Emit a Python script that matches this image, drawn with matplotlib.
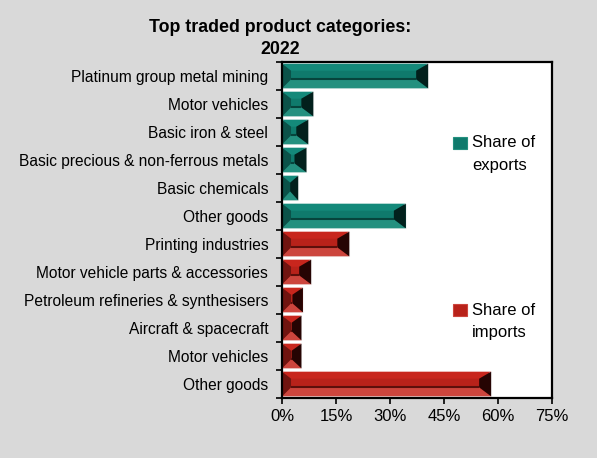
import matplotlib.pyplot as plt
from matplotlib.patches import Polygon, Rectangle
from matplotlib.ticker import FuncFormatter

plt.rcParams['font.family'] = ['Liberation Sans', 'DejaVu Sans']

categories = ["Platinum group metal mining", "Motor vehicles", "Basic iron & steel",
              "Basic precious & non-ferrous metals", "Basic chemicals", "Other goods",
              "Printing industries", "Motor vehicle parts & accessories",
              "Petroleum refineries & synthesisers", "Aircraft & spacecraft",
              "Motor vehicles", "Other goods"]
values = [40.6, 8.7, 7.3, 6.8, 4.5, 34.4, 18.7, 8.1, 5.8, 5.4, 5.4, 58.1]
groups = ["exports"] * 6 + ["imports"] * 6
xticks = [0, 15, 30, 45, 60, 75]

# face colours: main, top, bottom, left, right, line
shades = {
    "exports": ["#0f7a6c", "#14897a", "#24907f", "#0b5249", "#02201c", "#06443c"],
    "imports": ["#b8221a", "#c8261d", "#cc453d", "#701410", "#260403", "#5c0f0b"],
}

fig = plt.figure(figsize=(5.97, 4.58), dpi=100, facecolor="#d9d9d9")
ax = fig.add_axes([0.4724, 0.131, 0.4522, 0.7336])
ax.set_xlim(0, 75)
ax.set_ylim(len(categories) - 0.5, -0.5)

h = 0.88
# bevel size converted from pixels to data units
px_x = 0.4522 * 597 / 75
px_y = 0.7336 * 458 / len(categories)
for i, (v, g) in enumerate(zip(values, groups)):
    c = shades[g]
    top, bot = i - h / 2, i + h / 2
    dxl = min(9 / px_x, v / 2)
    dxr = min(12 / px_x, v / 2)
    dyt = 7 / px_y
    dyb = 9 / px_y
    ax.add_patch(Rectangle((0, top), v, h, facecolor=c[0], edgecolor="#f4f4f4", lw=0.8))
    ax.add_patch(Polygon([(0, top), (v, top), (v - dxr, top + dyt), (dxl, top + dyt)],
                         closed=True, facecolor=c[1], edgecolor="none"))
    ax.add_patch(Polygon([(0, bot), (v, bot), (v - dxr, bot - dyb), (dxl, bot - dyb)],
                         closed=True, facecolor=c[2], edgecolor="none"))
    ax.add_patch(Polygon([(0, top), (dxl, top + dyt), (dxl, bot - dyb), (0, bot)],
                         closed=True, facecolor=c[3], edgecolor="none"))
    ax.add_patch(Polygon([(v, top), (v - dxr, top + dyt), (v - dxr, bot - dyb), (v, bot)],
                         closed=True, facecolor=c[4], edgecolor="none"))
    ax.plot([dxl, v - dxr], [bot - dyb, bot - dyb], color=c[5], lw=1.5,
            solid_capstyle="butt")

ax.set_yticks(range(len(categories)))
ax.set_yticklabels(categories, fontsize=11.2)
ax.set_yticks([i + 0.5 for i in range(-1, len(categories))], minor=True)
ax.tick_params(axis="y", which="major", length=0, pad=10)
ax.tick_params(axis="y", which="minor", length=4, width=1.2, direction="out")
ax.set_xticks(xticks)
ax.xaxis.set_major_formatter(FuncFormatter(lambda x, p: f"{x:.0f}%"))
ax.tick_params(axis="x", length=4, width=1.2, labelsize=12, pad=4)
for s in ax.spines.values():
    s.set_linewidth(1.6)

fig.text(0.469, 0.940, "Top traded product categories:", ha="center", va="center",
         fontsize=12.8, fontweight="bold")
fig.text(0.469, 0.891, "2022", ha="center", va="center", fontsize=12.8, fontweight="bold")

for g, ypos in [("exports", 0.688), ("imports", 0.323)]:
    c = shades[g]
    fig.patches.append(Rectangle((0.759, ypos - 0.013), 0.0235, 0.026, facecolor=c[0],
                                 edgecolor=c[2], lw=0.8, transform=fig.transFigure))
    fig.text(0.791, ypos, "Share of", fontsize=12, va="center")
    fig.text(0.791, ypos - 0.049, g, fontsize=12, va="center")

fig.savefig("out.png", dpi=100, facecolor=fig.get_facecolor())
